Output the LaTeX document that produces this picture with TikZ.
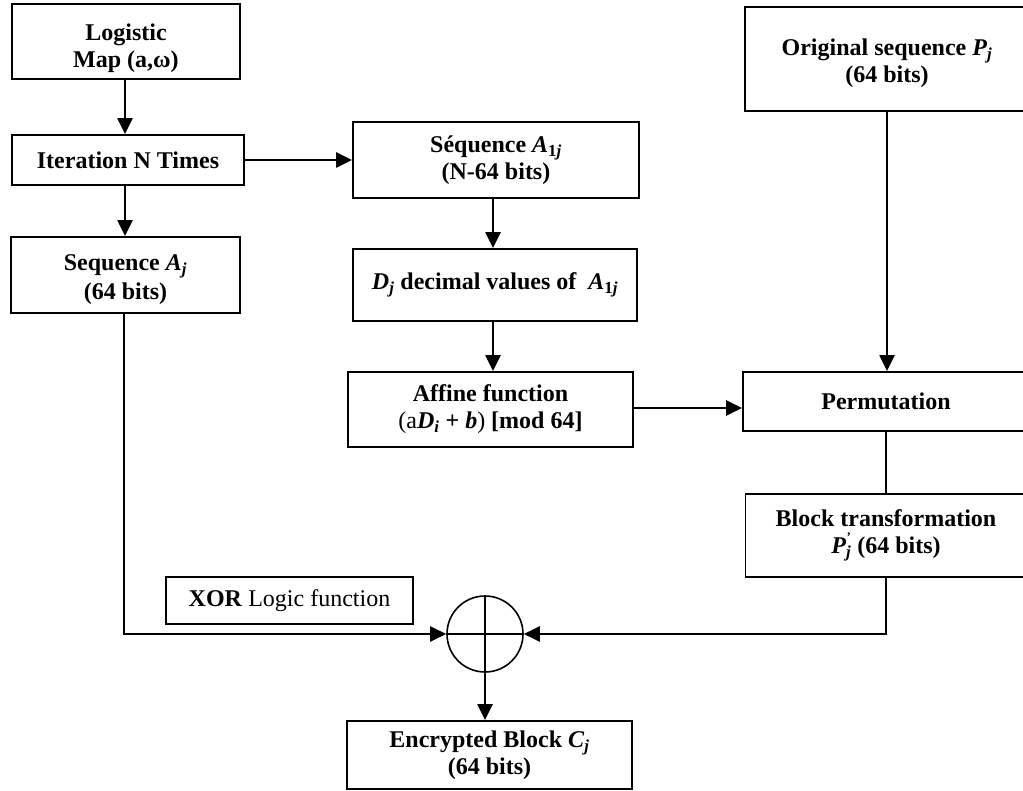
\documentclass[tikz,border=0pt]{standalone}
\usepackage{fontspec}
\setmainfont{Liberation Serif}
\usetikzlibrary{arrows.meta}
\newcommand{\bvar}[2]{\textbf{\textit{#1}}\textsubscript{\textbf{#2}}}
\begin{document}
\begin{tikzpicture}[x=1pt,y=-1pt,
  box/.style={draw,line width=1.8pt,inner sep=0pt,align=center,
    font=\fontsize{24}{27}\selectfont\bfseries},
  flow/.style={line width=2.3pt,-{Triangle[length=16pt,width=15pt]}},
  plain/.style={line width=2.3pt}]
\clip (0,0) rectangle (1023,791);
\node[box,minimum width=228pt,minimum height=75pt] (logistic) at (126,41.5) {\rule{0pt}{30pt}Logistic\\Map (a,ω)};
\node[box,minimum width=232pt,minimum height=50pt] (iter) at (128,160) {Iteration N Times};
\node[box,minimum width=229pt,minimum height=76pt] (seqA) at (125.5,275) {\rule{0pt}{26pt}Sequence \bvar{A}{\textit{j}}\\[2pt](64 bits)};
\node[box,minimum width=286pt,minimum height=76pt] (seqA1) at (496,160) {Séquence \bvar{A}{1\textit{j}}\\(N-64 bits)};
\node[box,minimum width=284pt,minimum height=72pt] (dj) at (495,285) {\bvar{D}{\textit{j}} decimal values of\ \ \bvar{A}{1\textit{j}}};
\node[box,minimum width=285pt,minimum height=75pt] (affine) at (490.5,409.5) {Affine function\\{\mdseries(a}\textbf{\textit{D}}\textsubscript{\textbf{\textit{i}}} + \textbf{\textit{b}}{\mdseries)} [mod 64]};
\node[box,minimum width=284pt,minimum height=104pt] (orig) at (887,59) {\rule{0pt}{26pt}Original sequence \bvar{P}{\textit{j}}\\(64 bits)};
\node[box,minimum width=286pt,minimum height=59pt] (perm) at (886,401.5) {Permutation};
\node[box,minimum width=281pt,minimum height=83pt] (block) at (886,535.5) {Block transformation\\\textbf{\textit{P}}\makebox[0pt][l]{\raisebox{1.1ex}{\fontsize{13}{13}\selectfont\textit{'}}}\textsubscript{\textbf{\textit{j}}} (64 bits)};
\node[box,line width=1.3pt,minimum width=247pt,minimum height=47pt,font=\fontsize{24}{27}\selectfont] (xorlabel) at (289.5,600.5) {\textbf{XOR} Logic function};
\node[draw,circle,line width=1.6pt,minimum size=76pt,inner sep=0pt] (xor) at (485,634) {};
\draw[line width=1.6pt] (xor.north) -- (xor.south) (xor.west) -- (xor.east);
\node[box,minimum width=285pt,minimum height=68pt] (enc) at (489.5,755) {Encrypted Block \bvar{C}{\textit{j}}\\(64 bits)};

\draw[flow] (logistic.south -| 125,0) -- (iter.north -| 125,0);
\draw[flow] (iter.east) -- (seqA1.west |- iter.east);
\draw[flow] (iter.south -| 125,0) -- (seqA.north -| 125,0);
\draw[flow] (seqA1.south -| 493,0) -- (dj.north -| 493,0);
\draw[flow] (dj.south -| 493,0) -- (affine.north -| 493,0);
\draw[flow] (affine.east |- 0,408) -- (perm.west |- 0,408);
\draw[flow] (orig.south -| 887,0) -- (perm.north -| 887,0);
\draw[plain] (perm.south -| 886,0) -- (block.north -| 886,0);
\draw[flow] (seqA.south -| 124,0) |- (xor.west);
\draw[flow] (block.south -| 886,0) |- (xor.east);
\draw[flow] (xor.south) -- (enc.north -| xor.south);
\end{tikzpicture}
\end{document}
